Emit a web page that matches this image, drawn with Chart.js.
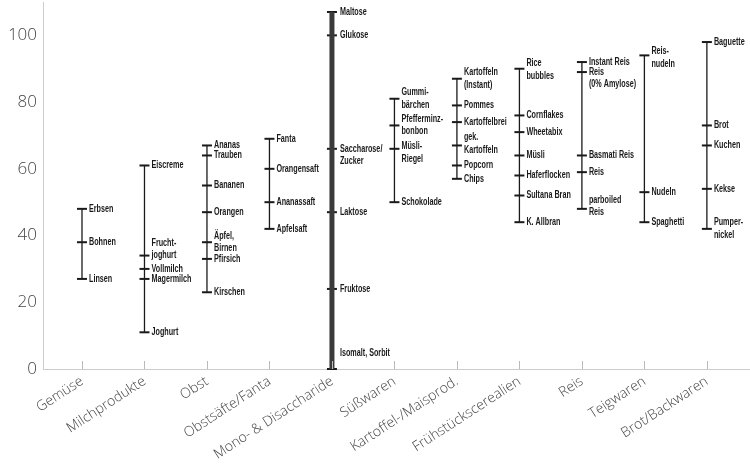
<!DOCTYPE html>
<html>
<head>
<meta charset="utf-8">
<script src="https://cdn.jsdelivr.net/npm/chart.js@4"></script>
<style>
  html, body { margin: 0; padding: 0; background: #fff; }
  canvas { display: block; }
</style>
</head>
<body>
<canvas id="gi" width="750" height="466"></canvas>
<script>
"use strict";
// Glykämischer Index nach Lebensmittelgruppen: je Gruppe eine senkrechte Spanne
// mit Querstrichen und Beschriftung pro Lebensmittel.

const categories = ["Gemüse", "Milchprodukte", "Obst", "Obstsäfte/Fanta", "Mono- & Disaccharide",
  "Süßwaren", "Kartoffel-/Maisprod.", "Frühstückscerealien", "Reis", "Teigwaren", "Brot/Backwaren"];

const foods = [
  ["Erbsen", "Bohnen", "Linsen"],
  ["Eiscreme", "Frucht-\njoghurt", "Vollmilch", "Magermilch", "Joghurt"],
  ["Ananas", "Trauben", "Bananen", "Orangen", "Äpfel,\nBirnen", "Pfirsich", "Kirschen"],
  ["Fanta", "Orangensaft", "Ananassaft", "Apfelsaft"],
  ["Maltose", "Glukose", "Saccharose/\nZucker", "Laktose", "Fruktose", "Isomalt, Sorbit"],
  ["Gummi-\nbärchen", "Pfefferminz-\nbonbon", "Müsli-\nRiegel", "Schokolade"],
  ["Kartoffeln\n(Instant)", "Pommes", "Kartoffelbrei", "gek.\nKartoffeln", "Popcorn", "Chips"],
  ["Rice\nbubbles", "Cornflakes", "Wheetabix", "Müsli", "Haferflocken", "Sultana Bran", "K. Allbran"],
  ["Instant Reis", "Reis\n(0% Amylose)", "Basmati Reis", "Reis", "parboiled\nReis"],
  ["Reis-\nnudeln", "Nudeln", "Spaghetti"],
  ["Baguette", "Brot", "Kuchen", "Kekse", "Pumper-\nnickel"]
];

const glycIndex = [
  [48, 38, 27],
  [61, 34, 30, 27, 11],
  [67, 64, 55, 47, 38, 33, 23],
  [69, 60, 50, 42],
  [107, 100, 66, 47, 24, 0],
  [81, 73, 66, 50],
  [87, 79, 74, 67, 61, 57],
  [90, 76, 71, 64, 58, 52, 44],
  [92, 89, 64, 59, 48],
  [94, 53, 44],
  [98, 73, 67, 54, 42]
];

const yTicks = [0, 20, 40, 60, 80, 100];

// which text line sits on the tick (default: block centred)
const labelAnchor = {
  "Frucht-\njoghurt": 1, "Saccharose/\nZucker": 0, "Müsli-\nRiegel": 0.2,
  "gek.\nKartoffeln": 0.65, "Reis\n(0% Amylose)": 0, "parboiled\nReis": 0.7,
  "Reis-\nnudeln": 0.3, "Rice\nbubbles": 0.4, "Isomalt, Sorbit": 1.3
};
const thickGroup = 4;
const ink = "#1a1a1a";

const rangeSets = glycIndex.map((vals, i) => ({
  type: "line",
  data: [{ x: i, y: Math.min(...vals) }, { x: i, y: Math.max(...vals) }],
  borderColor: i === thickGroup ? "#3a3a3a" : ink,
  borderWidth: i === thickGroup ? 5 : 1.3,
  pointRadius: 0,
  clip: false
}));

const tickSet = {
  type: "scatter",
  data: glycIndex.flatMap((vals, i) => vals.map(v => ({ x: i, y: v }))),
  pointStyle: "line",
  pointRadius: 5,
  borderWidth: 2,
  borderColor: ink,
  backgroundColor: ink,
  clip: false
};

const labelPlugin = {
  id: "foodLabels",
  afterDatasetsDraw(chart) {
    const { ctx, scales: { x, y }, chartArea } = chart;
    ctx.save();
    // small category ticks pointing up from the axis
    ctx.strokeStyle = "#bbb"; ctx.lineWidth = 1;
    categories.forEach((c, i) => {
      const px = Math.round(x.getPixelForValue(i)) + 0.5;
      ctx.beginPath(); ctx.moveTo(px, chartArea.bottom); ctx.lineTo(px, chartArea.bottom - 8); ctx.stroke();
    });
    ctx.fillStyle = ink;
    ctx.font = "bold 10px 'Liberation Sans', Arial, sans-serif";
    ctx.textBaseline = "middle";
    ctx.textAlign = "left";
    const lh = 12.5;
    glycIndex.forEach((vals, i) => {
      const px = x.getPixelForValue(i) + (i === thickGroup ? 8 : 7);
      vals.forEach((v, k) => {
        const name = foods[i][k];
        const lines = name.split("\n");
        let a = labelAnchor[name];
        if (a === undefined) a = (lines.length - 1) / 2;
        const py = y.getPixelForValue(v);
        lines.forEach((t, n) => {
          ctx.save();
          ctx.translate(px, py + (n - a) * lh);
          ctx.scale(0.72, 1);   // condensed look
          ctx.fillText(t, 0, 0);
          ctx.restore();
        });
      });
    });
    ctx.restore();
  }
};

new Chart(document.getElementById("gi"), {
  data: { datasets: [...rangeSets, tickSet] },
  plugins: [labelPlugin],
  options: {
    responsive: false,
    animation: false,
    devicePixelRatio: 1,
    layout: { autoPadding: false, padding: { top: 2, right: 0, left: 0, bottom: 0 } },
    plugins: { legend: { display: false }, tooltip: { enabled: false } },
    scales: {
      x: {
        type: "linear",
        min: -0.624,
        max: 10.69,
        afterBuildTicks: (s) => { s.ticks = categories.map((c, i) => ({ value: i })); },
        afterFit: (s) => { s.height = 97; s.paddingLeft = 0; s.paddingRight = 0; },
        grid: { display: false, drawTicks: false },
        border: { color: "#ccc" },
        ticks: {
          autoSkip: false, minRotation: 33, maxRotation: 33, padding: 4,
          color: "#444", font: { family: "'Open Sans', Lato, sans-serif", size: 14, weight: 300 },
          callback: (v) => categories[v]
        }
      },
      y: {
        min: 0,
        max: 110,
        afterBuildTicks: (s) => { s.ticks = yTicks.map(v => ({ value: v })); },
        afterFit: (s) => { s.width = 43; s.paddingTop = 0; s.paddingBottom = 0; },
        grid: { display: false, drawTicks: false },
        border: { color: "#ccc" },
        ticks: {
          padding: 6, color: "#444",
          font: { family: "'Open Sans', Lato, sans-serif", size: 17, weight: 300 }
        }
      }
    }
  }
});
</script>
</body>
</html>
